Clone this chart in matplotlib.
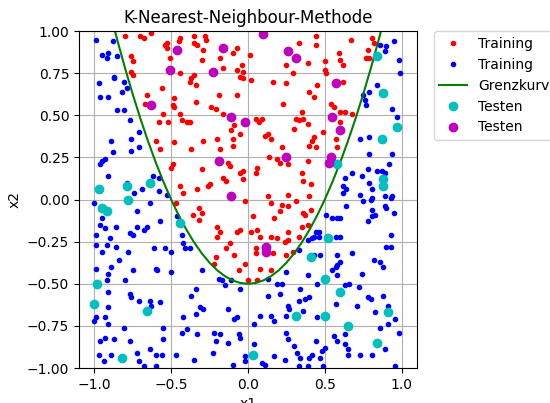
import matplotlib
matplotlib.use('Agg')
import matplotlib.pyplot as plt

# Trainingsdaten innerhalb der Grenzkurve (rot)
red_x = [-0.80, -0.70, -0.68, -0.63, -0.54, -0.76, -0.75, -0.76, -0.75, -0.56, -0.66, -0.67, -0.55, -0.58, -0.60,
         -0.53, -0.53, -0.44, -0.45, -0.35, -0.28, -0.27, -0.35, -0.33, -0.29, -0.51, -0.30, -0.10, -0.07, -0.18,
         -0.04, -0.07, -0.03, -0.16, -0.44, -0.37, -0.38, -0.35, -0.34, -0.05, -0.03, -0.48, -0.49, -0.48, -0.34,
         -0.19, -0.07, -0.24, -0.21, -0.44, -0.16, -0.43, -0.40, -0.38, -0.52, -0.09, -0.11, -0.05, -0.29, -0.20,
         -0.10, -0.48,
         0.44, 0.33, 0.44, 0.01, 0.25, 0.39, 0.50, 0.29, 0.50, 0.51, 0.02, 0.16, 0.25, 0.45, 0.40, 0.43, 0.23,
         0.35, 0.05, 0.07, 0.09, 0.31, 0.33, 0.36, 0.39, 0.30, 0.11, 0.13, 0.15, 0.43, 0.42, 0.49,
         0.67, 0.81, 0.82, 0.78, 0.59, 0.60, 0.62, 0.77, 0.79, 0.62, 0.54, 0.56, 0.60, 0.63, 0.68, 0.60, 0.57,
         -0.57,
         -0.37, -0.18, -0.10, -0.49, -0.50, -0.30, -0.13, -0.12, -0.05, -0.03, -0.16, -0.14, -0.03, -0.44, -0.42,
         -0.33, -0.26, -0.25, -0.47, -0.32, -0.30, -0.36, -0.32, -0.02, -0.20, -0.18, -0.20, -0.05, -0.07, -0.12,
         -0.14, -0.09, -0.21,
         0.22, 0.40, 0.44, 0.14, 0.19, 0.21, 0.26, 0.39, 0.06, 0.05, 0.35, 0.36, 0.41, 0.26, 0.13, 0.15, 0.22,
         0.26, 0.31, 0.40, 0.21, 0.36, 0.37, 0.41, 0.03, 0.17, 0.35, 0.39, 0.06, 0.02, 0.08, 0.15, 0.19, 0.26,
         0.24, 0.26, 0.33, 0.05, 0.05, 0.16, 0.29, 0.25,
         0.58, -0.22, -0.02, -0.06, 0.00, 0.06, 0.08, 0.15]
red_y = [0.97, 0.97, 0.96, 0.99, 0.92, 0.85, 0.82, 0.76, 0.74, 0.66, 0.62, 0.57, 0.51, 0.46, 0.35,
         0.93, 0.90, 0.96, 0.94, 0.97, 0.97, 0.95, 0.93, 0.92, 0.89, 0.84, 0.83, 0.87, 0.90, 0.84,
         0.80, 0.77, 0.76, 0.78, 0.75, 0.72, 0.70, 0.74, 0.68, 0.73, 0.72, 0.60, 0.56, 0.55, 0.58,
         0.62, 0.62, 0.55, 0.54, 0.51, 0.51, 0.47, 0.46, 0.46, 0.46, 0.44, 0.41, 0.39, 0.35, 0.36,
         0.36, 0.34,
         0.97, 0.93, 0.92, 0.86, 0.80, 0.81, 0.82, 0.75, 0.77, 0.75, 0.71, 0.70, 0.69, 0.68, 0.64, 0.61, 0.57,
         0.52, 0.48, 0.46, 0.48, 0.48, 0.47, 0.48, 0.45, 0.42, 0.38, 0.39, 0.36, 0.37, 0.35, 0.40,
         0.95, 0.96, 0.93, 0.89, 0.87, 0.83, 0.80, 0.84, 0.84, 0.70, 0.57, 0.55, 0.52, 0.52, 0.51, 0.46, 0.36,
         0.30,
         0.30, 0.30, 0.32, 0.21, 0.19, 0.18, 0.22, 0.20, 0.16, 0.17, 0.13, 0.11, 0.12, 0.08, 0.04,
         0.06, 0.08, 0.09, -0.02, -0.05, -0.08, -0.09, -0.12, -0.01, -0.16, -0.19, -0.22, -0.18, -0.19, -0.26,
         -0.29, -0.33, -0.34,
         0.31, 0.32, 0.31, 0.25, 0.24, 0.22, 0.21, 0.23, 0.19, 0.16, 0.16, 0.11, 0.09, 0.03, 0.02, -0.02, -0.03,
         -0.04, -0.01, 0.02, -0.07, -0.08, -0.09, -0.06, -0.10, -0.11, -0.16, -0.15, -0.18, -0.19, -0.22, -0.22, -0.23, -0.19,
         -0.25, -0.24, -0.22, -0.29, -0.32, -0.32, -0.31, -0.33,
         0.31, -0.38, -0.38, -0.42, -0.48, -0.48, -0.41, -0.42]

# Trainingsdaten ausserhalb der Grenzkurve (blau)
blue_x = [-0.99, -0.88, -0.95, -0.91, -0.92, -0.85, -0.87, -0.87, -0.81, -0.97, -0.79, -0.82, -0.96, -0.91, -0.85,
          -0.81, -0.77, -0.71, -0.76, -0.89,
          0.86, 0.90, 0.95, 0.89, 0.98, 0.99, 0.84, 0.79, 0.75, 0.76, 0.77, 0.94, 0.97, 0.73, 0.79,
          -0.71, -0.76, -0.88, -0.93, -0.95, -0.96, -0.91, -0.79, -0.69, -0.74, -0.62, -0.58, -0.58, -1.00, -0.64,
          -0.72, -0.95, -0.96, -0.93, -0.86, -0.72, -0.68, -0.66, -0.57, -0.77, -0.75, -0.99, -0.90, -0.99, -0.92,
          -0.86, -0.95, -0.78, -0.61, -0.54,
          -0.53, -0.46, -0.43, -0.42, -0.41, -0.38, -0.50,
          0.51, 0.55, 0.44, 0.46, 0.43, 0.42, 0.39, 0.46, 0.33, 0.43, 0.47,
          0.79, 0.94, 0.78, 0.84, 0.87, 0.89, 0.92, 0.68, 0.63, 0.74, 0.62, 0.64, 0.62, 0.79, 0.81, 0.73, 0.75,
          0.80, 0.81, 0.89, 0.93, 0.94, 0.64, 0.81, 0.89, 0.90, 0.95, 0.81, 0.83, 0.78, 0.58, 0.60, 0.57, 0.60,
          0.93, 0.90, 0.93, 0.58, 0.68,
          -0.84, -0.89, -0.99, -0.91, -0.75, -0.60, -0.59, -0.92, -0.80, -0.91, -0.77, -0.76, -0.71, -0.64, -0.63,
          -0.57, -0.91, -0.99, -0.93, -1.00, -0.91, -0.81, -0.55, -0.96, -0.93, -0.87, -0.77, -0.55, -0.64, -0.97,
          -0.89, -0.72, -0.60, -0.56, -0.94, -0.71, -0.68, -0.60,
          -0.50, -0.30, -0.19, -0.17, -0.15, -0.11, -0.05, -0.34, -0.37, -0.31, -0.29, -0.34, -0.42, -0.13, -0.09,
          -0.07, -0.43, -0.40, -0.33, -0.22, -0.18, -0.21, -0.13, -0.06, -0.05, -0.47, -0.23, -0.35, -0.10, -0.02,
          -0.02,
          0.25, 0.13, 0.19, 0.22, 0.39, 0.45, 0.34, 0.13, 0.21, 0.33, 0.37, 0.40, 0.26, 0.27, 0.36, 0.08, 0.15,
          0.25, 0.45, 0.04, 0.17, 0.25, 0.26, 0.30, 0.32, 0.04, 0.17, 0.24, 0.34, 0.42, 0.44, 0.48, 0.50, 0.47,
          0.40, 0.09, 0.11, 0.33, 0.39, 0.49,
          0.60, 0.58, 0.57, 0.55, 0.58, 0.82, 0.86, 0.88, 0.74, 0.66, 0.63, 0.72, 0.78, 0.80, 0.88, 0.57, 0.71,
          0.83, 0.91, 0.96, 0.86, 0.91, 0.98, 0.56, 0.63, 0.58, 0.63, 0.65, 0.65, 0.73, 0.81, 0.89, 0.96]
blue_y = [0.95, 0.94, 0.86, 0.87, 0.84, 0.85, 0.73, 0.72, 0.70, 0.69, 0.66, 0.64, 0.61, 0.61, 0.53,
          0.53, 0.47, 0.40, 0.36, 0.35,
          0.92, 0.91, 0.94, 0.88, 0.83, 0.75, 0.68, 0.64, 0.62, 0.59, 0.56, 0.54, 0.49, 0.36, 0.37,
          0.31, 0.29, 0.28, 0.24, 0.23, 0.21, 0.14, 0.10, 0.06, 0.04, 0.14, 0.13, 0.05, -0.02, -0.02,
          -0.07, -0.11, -0.15, -0.17, -0.16, -0.16, -0.18, -0.16, -0.13, -0.20, -0.21, -0.21, -0.23, -0.27, -0.27,
          -0.28, -0.31, -0.31, -0.29, -0.29,
          0.03, -0.10, -0.21, -0.26, -0.29, -0.29, -0.31,
          -0.09, -0.11, -0.19, -0.19, -0.22, -0.23, -0.24, -0.22, -0.30, -0.33, -0.33,
          0.27, 0.27, 0.18, 0.17, 0.17, 0.16, 0.21, 0.16, 0.13, 0.14, 0.08, 0.06, 0.04, 0.10, 0.06, 0.03, -0.01,
          0.00, 0.01, 0.02, 0.01, 0.02, -0.04, -0.06, -0.04, -0.05, -0.08, -0.10, -0.09, -0.13, -0.11, -0.11, -0.22, -0.22,
          -0.21, -0.28, -0.28, -0.33, -0.32,
          -0.36, -0.40, -0.41, -0.44, -0.42, -0.41, -0.42, -0.48, -0.48, -0.55, -0.56, -0.58, -0.60, -0.60, -0.63,
          -0.61, -0.64, -0.70, -0.70, -0.72, -0.74, -0.76, -0.76, -0.84, -0.82, -0.83, -0.84, -0.83, -0.89, -0.92,
          -0.92, -0.91, -0.92, -0.92, -0.96, -0.96, -0.99, -0.99,
          -0.43, -0.42, -0.47, -0.48, -0.51, -0.48, -0.53, -0.53, -0.57, -0.64, -0.65, -0.68, -0.70, -0.65, -0.71,
          -0.70, -0.79, -0.77, -0.80, -0.79, -0.80, -0.84, -0.85, -0.80, -0.82, -0.92, -0.91, -0.95, -0.98, -0.93,
          -0.96,
          -0.43, -0.47, -0.50, -0.50, -0.45, -0.50, -0.53, -0.57, -0.56, -0.60, -0.59, -0.58, -0.63, -0.65, -0.66, -0.69, -0.69,
          -0.69, -0.70, -0.74, -0.72, -0.79, -0.83, -0.87, -0.91, -0.86, -0.93, -0.95, -0.94, -0.92, -0.84, -0.90, -0.88, -0.94,
          -0.94, -0.97, -0.98, -0.99, -0.99, -0.99,
          -0.37, -0.39, -0.40, -0.42, -0.45, -0.36, -0.37, -0.40, -0.44, -0.50, -0.51, -0.52, -0.58, -0.59, -0.57, -0.62, -0.63,
          -0.67, -0.63, -0.71, -0.76, -0.74, -0.79, -0.81, -0.80, -0.84, -0.86, -0.89, -0.92, -0.92, -0.92, -0.89, -0.99]

# Grenzkurve
curve_x = [-1.0, -0.9, -0.85, -0.8, -0.75, -0.7, -0.65, -0.6, -0.55, -0.5, -0.45, -0.4, -0.35, -0.3, -0.25,
           -0.2, -0.15, -0.1, -0.05, 0.0, 0.05, 0.1, 0.15, 0.2, 0.25, 0.3, 0.35, 0.4, 0.45, 0.5, 0.55, 0.6,
           0.65, 0.7, 0.75, 0.8, 0.85, 0.9, 1.0]
curve_y = [1.5, 1.12, 0.945, 0.78, 0.625, 0.48, 0.345, 0.22, 0.105, 0.0, -0.095, -0.18, -0.255, -0.32, -0.375,
           -0.42, -0.455, -0.48, -0.495, -0.5, -0.495, -0.48, -0.455, -0.42, -0.375, -0.32, -0.255, -0.18, -0.095,
           0.0, 0.105, 0.22, 0.345, 0.48, 0.625, 0.78, 0.945, 1.12, 1.5]

# Testdaten
cyan_x = [0.84, 0.88, 0.97, 0.87, -0.97, -0.79, -0.78, -0.64, -0.95, -0.92, -0.44, 0.52, 0.41, 0.58, 0.88, 0.88,
          -0.98, -1.00, -0.66, -0.82, 0.50, 0.31, 0.50, 0.03, 0.60, 0.91, 0.65, 0.84]
cyan_y = [0.85, 0.63, 0.43, 0.36, 0.06, 0.08, 0.00, 0.10, -0.05, -0.07, -0.14, -0.23, -0.34, 0.21, 0.12, 0.08,
          -0.50, -0.62, -0.66, -0.94, -0.47, -0.69, -0.69, -0.92, -0.55, -0.67, -0.75, -0.85]
mag_x = [-0.63, -0.46, -0.16, -0.51, -0.23, -0.11, -0.02, 0.10, 0.26, 0.31, 0.57, 0.55, 0.60, -0.19, -0.11,
         0.25, 0.54, 0.53, 0.12, 0.12]
mag_y = [0.56, 0.89, 0.90, 0.77, 0.76, 0.49, 0.46, 0.98, 0.88, 0.84, 0.69, 0.49, 0.41, 0.23, 0.02,
         0.25, 0.25, 0.22, -0.28, -0.31]

fig = plt.figure(figsize=(5.5, 4.03), dpi=100)
ax = fig.add_axes([0.1436, 0.0868, 0.6145, 0.836])

ax.plot(red_x, red_y, 'r.', label='Training')
ax.plot(blue_x, blue_y, 'b.', label='Training')
ax.plot(curve_x, curve_y, 'g-', label='Grenzkurve')
ax.plot(cyan_x, cyan_y, 'co', label='Testen')
ax.plot(mag_x, mag_y, 'mo', label='Testen')

ax.set_xlim(-1.1, 1.1)
ax.set_ylim(-1, 1)
ax.set_xticks([-1.0, -0.5, 0.0, 0.5, 1.0])
ax.set_yticks([-1.0, -0.75, -0.5, -0.25, 0.0, 0.25, 0.5, 0.75, 1.0])
ax.grid(True)
ax.set_title('K-Nearest-Neighbour-Methode')
ax.set_xlabel('x1')
ax.set_ylabel('x2')
ax.legend(bbox_to_anchor=(1.05, 1), loc=2, borderaxespad=0.)

fig.savefig('out.png', dpi=100)
